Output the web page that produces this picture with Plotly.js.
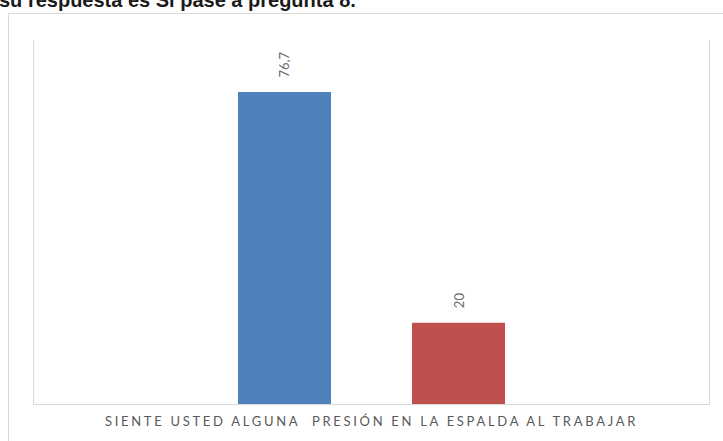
<!DOCTYPE html>
<html>
<head>
<meta charset="utf-8">
<script src="https://cdn.plot.ly/plotly-3.0.1.min.js"></script>
<style>
  html, body { margin: 0; padding: 0; background: #ffffff; }
  #chart { width: 723px; height: 441px; }
  #chart .xtick text { letter-spacing: 2.7px; }
</style>
</head>
<body>
<div id="chart"></div>
<script>
// ---- data ----
const categories = ["SIENTE USTED ALGUNA  PRESIÓN EN LA ESPALDA AL TRABAJAR"];
const seriesNames = ["Sí", "No"];
const siValues = [76.7];
const noValues = [20];
const siLabels = ["76,7"];
const noLabels = ["20"];
const titleText = "su respuesta es Si pase a pregunta 8.";

const labelFont = { family: "Lato, 'Open Sans', sans-serif", size: 13, color: "#6b6b6b" };

const traces = [
  { type: "bar", name: seriesNames[0], x: categories, y: siValues,
    marker: { color: "#4F81BD" }, hoverinfo: "none" },
  { type: "bar", name: seriesNames[1], x: categories, y: noValues,
    marker: { color: "#C0504D" }, hoverinfo: "none" }
];

const L = 34, R = 14, T = 40, B = 37, W = 723, H = 441;
const pw = W - L - R, ph = H - T - B;
const px = (p) => (p - L) / pw;
const py = (p) => (H - B - p) / ph;

// data labels (rotated) above each bar
const annotations = [];
[[siValues, siLabels, -87], [noValues, noLabels, 87]].forEach(([vals, labs, xs]) => {
  vals.forEach((v, i) => {
    annotations.push({
      x: categories[i], y: v, xref: "x", yref: "y",
      text: labs[i], showarrow: false, textangle: -90,
      xanchor: "center", yanchor: "bottom", xshift: xs, yshift: 12,
      font: labelFont
    });
  });
});

// chart title (partly outside the top edge, as in the source)
annotations.push({
  xref: "paper", yref: "paper", x: px(-3), y: py(0),
  xanchor: "left", yanchor: "middle", showarrow: false,
  text: "<b>" + titleText + "</b>",
  font: { family: "'Liberation Sans', Arial, sans-serif", size: 20, color: "#1a1a1a" }
});

const layout = {
  width: W, height: H,
  margin: { l: L, r: R, t: T, b: B, pad: 0 },
  paper_bgcolor: "#ffffff", plot_bgcolor: "#ffffff",
  showlegend: false,
  barmode: "group", bargap: 0.4844, bargroupgap: 0.4655,
  xaxis: {
    type: "category", showline: true, linecolor: "#d9d9d9", linewidth: 1,
    showgrid: false, zeroline: false, ticks: "", fixedrange: true,
    ticklabelstandoff: 5,
    tickfont: { family: "Lato, 'Open Sans', sans-serif", size: 13, color: "#595959" }
  },
  yaxis: {
    range: [0, 89.5], showline: true, mirror: true, linecolor: "#d9d9d9", linewidth: 1,
    showgrid: false, zeroline: false, showticklabels: false, ticks: "", fixedrange: true
  },
  annotations: annotations,
  shapes: [
    { type: "line", xref: "paper", yref: "paper", x0: px(8.5), x1: px(8.5), y0: py(13.5), y1: py(445),
      line: { color: "#d9d9d9", width: 1 } },
    { type: "line", xref: "paper", yref: "paper", x0: px(8.5), x1: px(730), y0: py(13.5), y1: py(13.5),
      line: { color: "#d9d9d9", width: 1 } }
  ]
};

Plotly.newPlot("chart", traces, layout, { staticPlot: true, displayModeBar: false });
</script>
</body>
</html>
